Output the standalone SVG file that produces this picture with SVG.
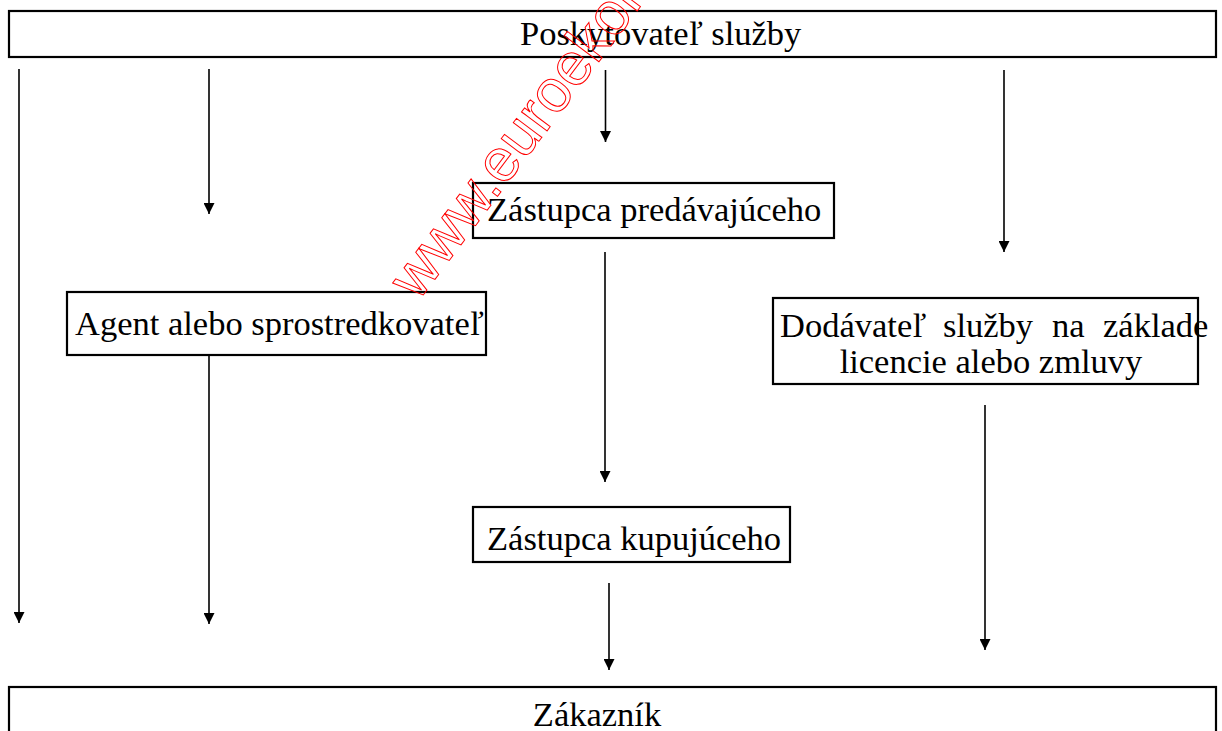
<svg xmlns="http://www.w3.org/2000/svg" width="1222" height="731" viewBox="0 0 1222 731">
<defs>
<style>
.box{fill:#fff;stroke:#000;stroke-width:2.2}
.t{font-family:'Times New Roman','Liberation Serif',Tinos,'DejaVu Serif',serif;font-size:34.5px;fill:#000}
.c{stroke:#000;stroke-width:1.6;fill:none;marker-end:url(#ah)}
.wm{font-family:'Liberation Sans',Arial,sans-serif;font-size:60px;fill:none;stroke:#f00;stroke-width:1}
</style>
<marker id="ah" markerUnits="userSpaceOnUse" markerWidth="11" markerHeight="11" refX="10" refY="5" orient="auto" viewBox="0 0 10 10">
<path d="M0,0 L10,5 L0,10 z" fill="#000"/>
</marker>
</defs>
<rect width="1222" height="731" fill="#fff"/>
<g id="n-poskytovatel">
<rect class="box" x="9" y="11" width="1207" height="46"/>
<text class="t" x="520" y="45">Poskytovateľ služby</text>
</g>
<g id="n-zastupca-predavajuceho">
<rect class="box" x="473" y="183" width="361" height="55"/>
<text class="t" x="487" y="221">Zástupca predávajúceho</text>
</g>
<g id="n-agent">
<rect class="box" x="67" y="292" width="419" height="63"/>
<text class="t" x="75" y="335">Agent alebo sprostredkovateľ</text>
</g>
<g id="n-dodavatel">
<rect class="box" x="773" y="298" width="425" height="86"/>
<text class="t" y="337"><tspan x="780">Dodávateľ</tspan><tspan x="943">služby</tspan><tspan x="1052">na</tspan><tspan x="1103">základe</tspan></text>
<text class="t" x="991" y="373" text-anchor="middle">licencie alebo zmluvy</text>
</g>
<g id="n-zastupca-kupujuceho">
<rect class="box" x="473" y="507" width="317" height="55"/>
<text class="t" x="487" y="550">Zástupca kupujúceho</text>
</g>
<g id="n-zakaznik">
<rect class="box" x="9" y="687" width="1207" height="60"/>
<text class="t" x="597" y="726" text-anchor="middle">Zákazník</text>
</g>
<g id="connectors">
<line class="c" x1="19" y1="69" x2="19" y2="623"/>
<line class="c" x1="209" y1="69" x2="209" y2="214"/>
<line class="c" x1="605.5" y1="70" x2="605.5" y2="142"/>
<line class="c" x1="1004" y1="70" x2="1004" y2="252"/>
<line class="c" x1="605" y1="252" x2="605" y2="482"/>
<line class="c" x1="209" y1="355" x2="209" y2="624"/>
<line class="c" x1="609" y1="583" x2="609" y2="670"/>
<line class="c" x1="985" y1="405" x2="985" y2="650"/>
</g>
<text class="wm" transform="translate(418,302) rotate(-53)">www.euroekonom.sk</text>
</svg>
